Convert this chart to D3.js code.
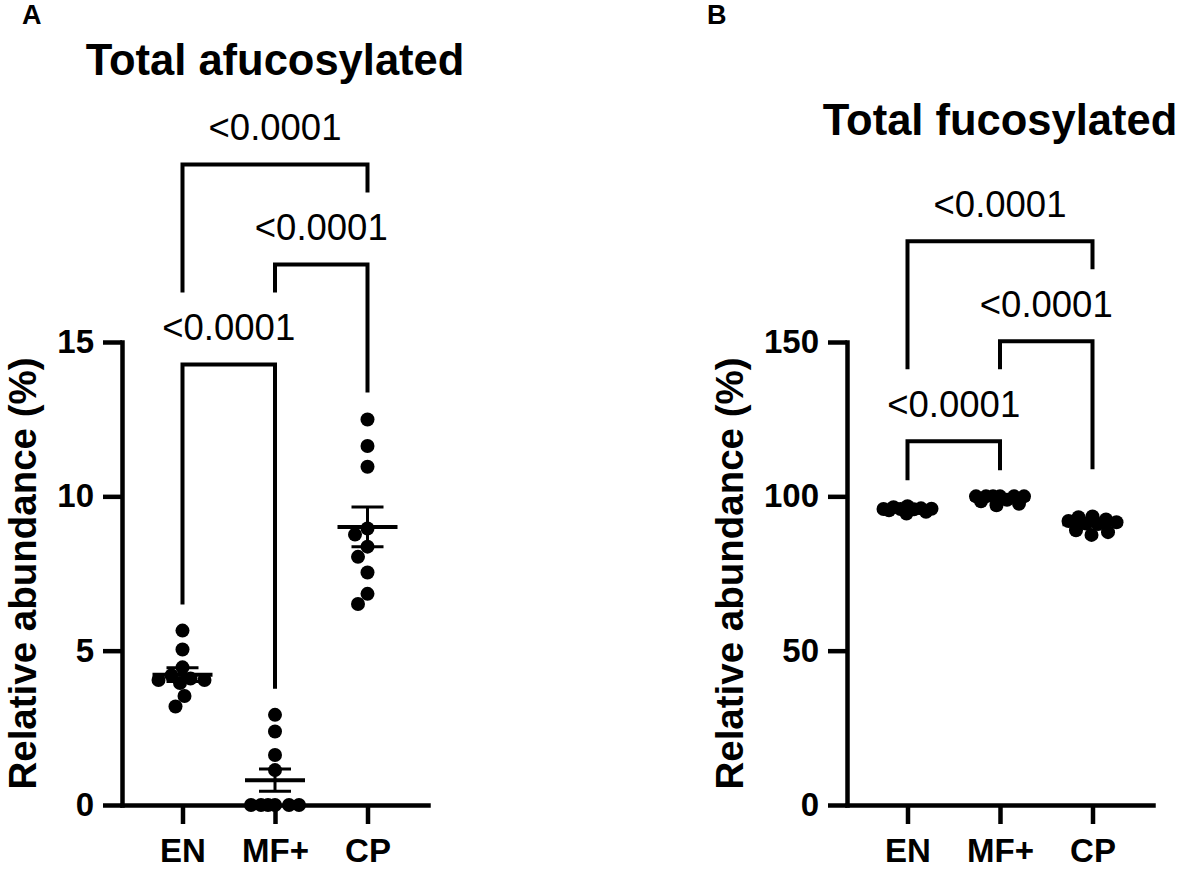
<!DOCTYPE html>
<html>
<head>
<meta charset="utf-8">
<script src="https://cdn.jsdelivr.net/npm/d3@7"></script>
<style>
  body { margin: 0; background: #fff; }
  svg { display: block; font-family: Arial, "Liberation Sans", Helvetica, sans-serif; }
  .axis path, .axis line { stroke: #000; stroke-width: 4.5; }
  .axis path { stroke-linecap: square; }
  .axis text { font-size: 33px; font-weight: bold; fill: #000; }
  .title { font-size: 43.5px; font-weight: bold; text-anchor: middle; }
  .letter { font-size: 27px; font-weight: bold; }
  .y-label { font-size: 38.5px; font-weight: bold; text-anchor: middle; }
  .bracket { fill: none; stroke: #000; stroke-width: 4; stroke-linejoin: miter; }
  .p-label { font-size: 36.5px; text-anchor: middle; }
  .mean { stroke: #000; stroke-width: 4; }
  .sem { stroke: #000; stroke-width: 3; }
</style>
</head>
<body>
<div id="wrapper"></div>
<script>
// 1. Data
const categories = ["EN", "MF+", "CP"]

const afucEN = [5.65, 5.04, 4.46, 4.20, 4.10, 4.05, 4.05, 3.95, 3.53, 3.19]
const afucMF = [2.92, 2.38, 1.62, 1.13, 0, 0, 0, 0, 0, 0]
const afucCP = [12.49, 11.63, 10.96, 8.96, 8.76, 8.37, 8.04, 7.53, 6.84, 6.51]

const fucEN = [96.8, 96.5, 96.1, 96.0, 95.9, 95.9, 95.8, 95.5, 95.0, 94.4]
const fucMF = [100, 100, 100, 100, 100, 100, 98.9, 98.4, 97.6, 97.1]
const fucCP = [93.5, 93.2, 92.5, 92.0, 91.6, 91.2, 91.0, 89.0, 88.4, 87.5]

const afucTicks = [0, 5, 10, 15]
const fucTicks = [0, 50, 100, 150]

const comparisons = [["EN", "MF+"], ["MF+", "CP"], ["EN", "CP"]]
const pLabels = ["<0.0001", "<0.0001", "<0.0001"]

// 2. Dimensions
const dimensions = {
  width: 1181,
  height: 869,
  yBottom: 805,
  yTop: 342,
  axisWidth: 306,
  tickSize: 19,
  dotRadius: 7,
}

const panels = [
  {
    letter: "A", letterX: 22,
    title: "Total afucosylated", titleY: 75,
    axisX: 122, labelX: 36,
    yMax: 15, ticks: afucTicks,
    groups: [afucEN, afucMF, afucCP],
  },
  {
    letter: "B", letterX: 707,
    title: "Total fucosylated", titleY: 135,
    axisX: 847, labelX: 743,
    yMax: 150, ticks: fucTicks,
    groups: [fucEN, fucMF, fucCP],
  },
]

// 3. Canvas
const wrapper = d3.select("#wrapper")
  .append("svg")
    .attr("width", dimensions.width)
    .attr("height", dimensions.height)

// simple beeswarm: nearest free horizontal offset, else least-overlapping one
function swarm(values, yScale, maxOff) {
  const r = dimensions.dotRadius
  const minDist = 2 * r - 0.4
  const candidates = [0]
  for (let o = 0.5; o <= maxOff; o += 0.5) candidates.push(-o, o)
  const placed = []
  values.forEach(v => {
    const y = yScale(v)
    let chosen = null
    let bestOff = 0, bestDist = -1
    for (const off of candidates) {
      let md = Infinity
      placed.forEach(p => {
        md = Math.min(md, Math.hypot(p.dx - off, p.y - y))
      })
      if (md >= minDist) { chosen = off; break }
      if (md > bestDist + 0.01) { bestDist = md; bestOff = off }
    }
    placed.push({ v, y, dx: chosen !== null ? chosen : bestOff })
  })
  return placed
}

function drawPanel(p) {
  const g = wrapper.append("g")

  // 4. Scales
  const yScale = d3.scaleLinear()
    .domain([0, p.yMax])
    .range([dimensions.yBottom, dimensions.yTop])

  const xScale = d3.scalePoint()
    .domain(categories)
    .range([p.axisX, p.axisX + dimensions.axisWidth])
    .padding(0.654)

  const valuesOf = cat => p.groups[categories.indexOf(cat)]

  // 5. Peripherals
  g.append("text")
      .attr("class", "letter")
      .attr("x", p.letterX)
      .attr("y", 24)
      .text(p.letter)

  g.append("text")
      .attr("class", "title")
      .attr("x", p.axisX + dimensions.axisWidth / 2)
      .attr("y", p.titleY)
      .text(p.title)

  g.append("text")
      .attr("class", "y-label")
      .attr("transform", `translate(${p.labelX}, ${(dimensions.yTop + dimensions.yBottom) / 2}) rotate(-90)`)
      .text("Relative abundance (%)")

  const yAxisGenerator = d3.axisLeft(yScale)
    .tickValues(p.ticks)
    .tickSize(dimensions.tickSize)
    .tickSizeOuter(0)
    .tickPadding(9)

  g.append("g")
      .attr("class", "axis y-axis")
      .attr("transform", `translate(${p.axisX}, 0)`)
      .call(yAxisGenerator)

  const xAxisGenerator = d3.axisBottom(xScale)
    .tickSize(dimensions.tickSize)
    .tickSizeOuter(0)
    .tickPadding(15)

  g.append("g")
      .attr("class", "axis x-axis")
      .attr("transform", `translate(0, ${yScale(0)})`)
      .call(xAxisGenerator)

  // 6. Data points
  categories.forEach((cat, i) => {
    const cx = xScale(cat)
    const vals = p.groups[i]
    const pts = swarm(vals, yScale, 24)

    g.append("g")
      .selectAll("circle")
      .data(pts)
      .join("circle")
        .attr("cx", d => cx + d.dx)
        .attr("cy", d => d.y)
        .attr("r", dimensions.dotRadius)
        .attr("fill", "#000")

    const mean = d3.mean(vals)
    const sem = d3.deviation(vals) / Math.sqrt(vals.length)

    g.append("line")
        .attr("class", "mean")
        .attr("x1", cx - 30).attr("x2", cx + 30)
        .attr("y1", yScale(mean)).attr("y2", yScale(mean))

    g.append("path")
        .attr("class", "sem")
        .attr("fill", "none")
        .attr("d", `M${cx - 16},${yScale(mean + sem)}H${cx + 16}`
          + `M${cx},${yScale(mean + sem)}V${yScale(mean - sem)}`
          + `M${cx - 16},${yScale(mean - sem)}H${cx + 16}`)
  })

  // 7. Significance brackets
  const allMax = d3.max(p.groups.flat())
  const baseY = yScale(allMax) - 55
  const levelStep = 100

  comparisons.forEach(([a, b], level) => {
    const y = baseY - level * levelStep
    const legBottom = cat => {
      if (level === 0) return yScale(d3.max(valuesOf(cat))) - 26
      const below = comparisons[level - 1]
      return below.includes(cat) ? y + 28 : y + levelStep + 28
    }
    const xa = xScale(a)
    const xb = xScale(b)

    g.append("path")
        .attr("class", "bracket")
        .attr("d", `M${xa},${legBottom(a)}V${y}H${xb}V${legBottom(b)}`)

    g.append("text")
        .attr("class", "p-label")
        .attr("x", (xa + xb) / 2)
        .attr("y", y - 24)
        .text(pLabels[level])
  })
}

panels.forEach(drawPanel)
</script>
</body>
</html>
